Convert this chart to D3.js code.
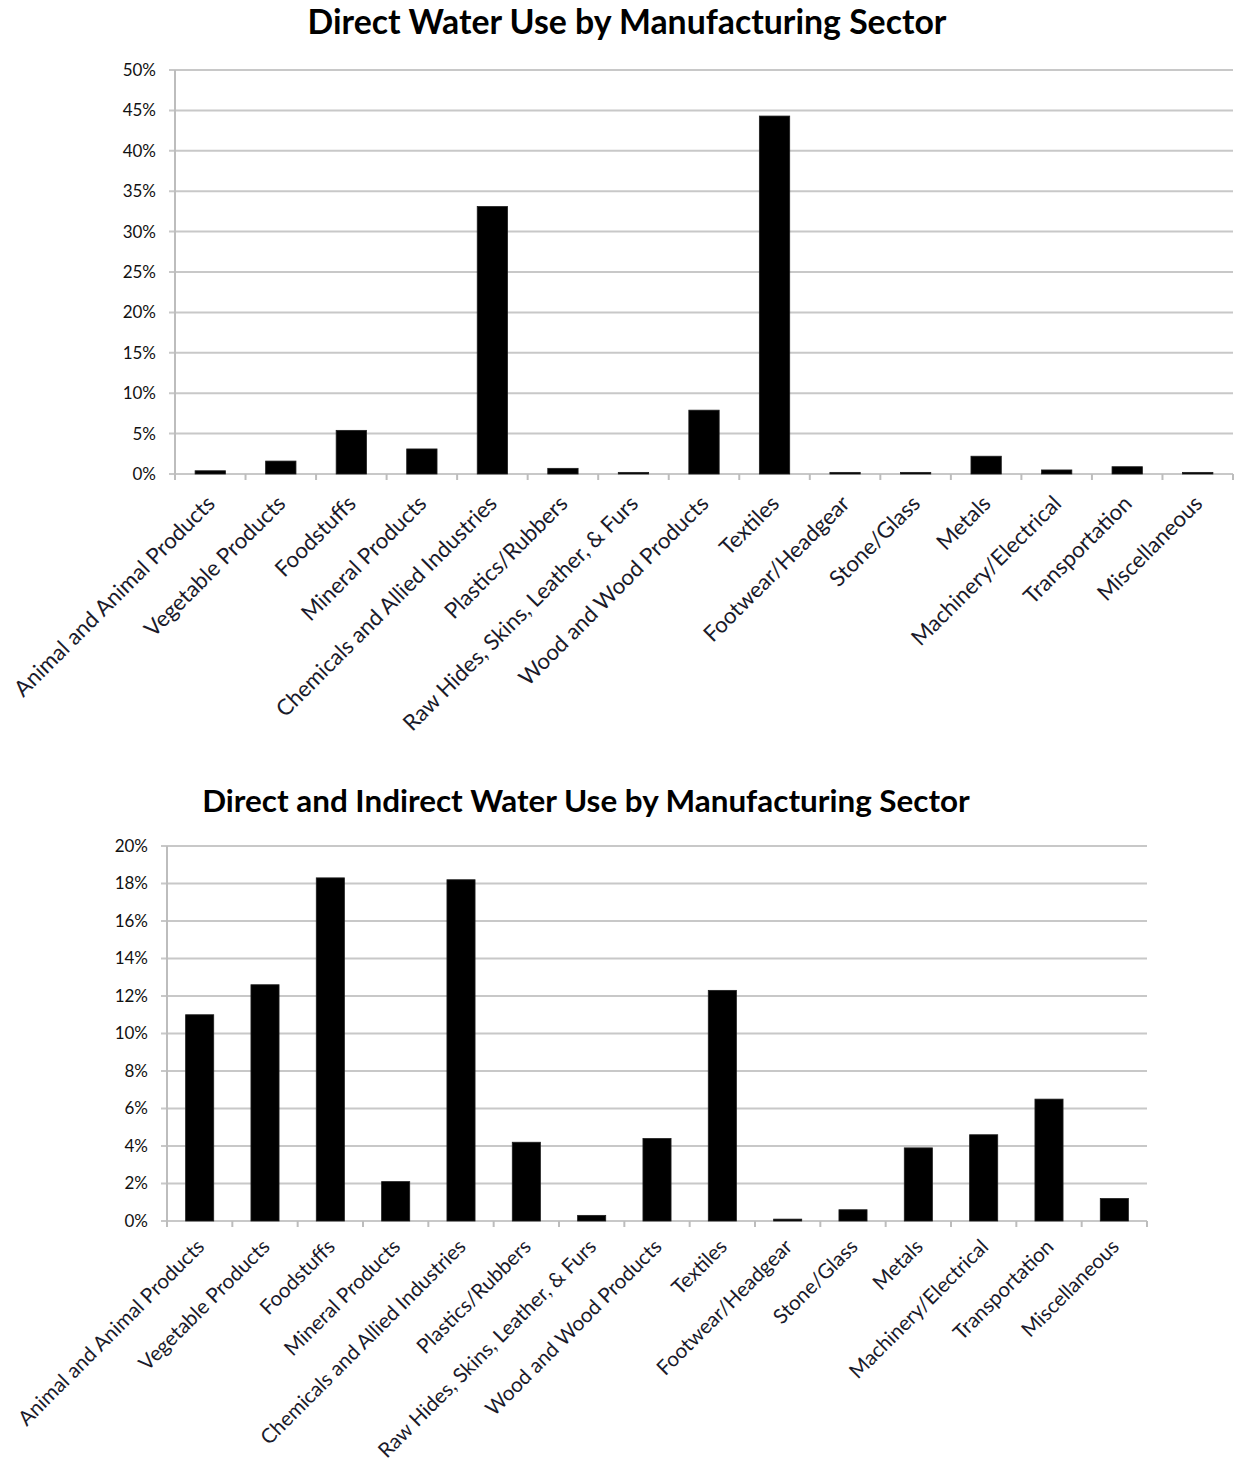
<!DOCTYPE html>
<html>
<head>
<meta charset="utf-8">
<script src="https://cdn.jsdelivr.net/npm/d3@7"></script>
<style>
    body { margin: 0; background: #fff; }
    svg { display: block; }
</style>
</head>
<body>
<svg width="1241" height="1468"></svg>
<script>
// Категории (одинаковые для обоих графиков)
const categories = [
    "Animal and Animal Products", "Vegetable Products", "Foodstuffs", "Mineral Products",
    "Chemicals and Allied Industries", "Plastics/Rubbers", "Raw Hides, Skins, Leather, & Furs",
    "Wood and Wood Products", "Textiles", "Footwear/Headgear", "Stone/Glass", "Metals",
    "Machinery/Electrical", "Transportation", "Miscellaneous"
];

// Доля прямого водопотребления, %
const directUse = [0.4, 1.6, 5.4, 3.1, 33.1, 0.7, 0.2, 7.9, 44.3, 0.2, 0.2, 2.2, 0.5, 0.9, 0.2];

// Доля прямого и косвенного водопотребления, %
const totalUse = [11.0, 12.6, 18.3, 2.1, 18.2, 4.2, 0.3, 4.4, 12.3, 0.1, 0.6, 3.9, 4.6, 6.5, 1.2];

// Подписи оси Y
const directTicks = [0, 5, 10, 15, 20, 25, 30, 35, 40, 45, 50];
const totalTicks = [0, 2, 4, 6, 8, 10, 12, 14, 16, 18, 20];

const titles = [
    "Direct Water Use by Manufacturing Sector",
    "Direct and Indirect Water Use by Manufacturing Sector"
];

let svg = d3.select("svg");

// Функция рисует один график
function drawChart(svg, title, values, ticks, area) {
    let g = svg.append("g");
    let data = categories.map((c, i) => ({label: c, value: values[i]}));

    let scaleX = d3.scaleBand()
        .domain(categories)
        .range([area.left, area.right]);

    let scaleY = d3.scaleLinear()
        .domain([0, d3.max(ticks)])
        .range([area.bottom, area.top]);

    // заголовок
    g.append("text")
        .attr("x", area.titleX)
        .attr("y", area.titleY)
        .attr("text-anchor", "middle")
        .style("font-family", "Lato, sans-serif")
        .style("font-weight", "bold")
        .style("font-size", area.titleSize + "px")
        .style("fill", "#000")
        .text(title);

    // линии сетки
    g.selectAll(".grid")
        .data(ticks)
        .enter()
        .append("line")
        .attr("x1", area.left - 6)
        .attr("x2", area.right)
        .attr("y1", d => scaleY(d))
        .attr("y2", d => scaleY(d))
        .attr("stroke", "#c8c8c8")
        .attr("stroke-width", 2);

    // ось Y
    g.append("line")
        .attr("x1", area.left).attr("x2", area.left)
        .attr("y1", area.top).attr("y2", area.bottom + 6)
        .attr("stroke", "#bdbdbd")
        .attr("stroke-width", 2);

    let axisY = d3.axisLeft(scaleY)
        .tickValues(ticks)
        .tickFormat(d => d + "%")
        .tickSize(0)
        .tickPadding(19);

    let gy = g.append("g")
        .attr("transform", `translate(${area.left}, 0)`)
        .call(axisY);
    gy.select(".domain").remove();
    gy.selectAll("text")
        .style("font-family", "Lato, sans-serif")
        .style("font-size", "17px")
        .style("fill", "#111");

    // засечки оси X на границах категорий
    let bounds = categories.map(c => scaleX(c)).concat([area.right]);
    g.selectAll(".xtick")
        .data(bounds)
        .enter()
        .append("line")
        .attr("x1", d => d).attr("x2", d => d)
        .attr("y1", area.bottom).attr("y2", area.bottom + 6)
        .attr("stroke", "#bdbdbd")
        .attr("stroke-width", 2);

    // подписи оси X
    let axisX = d3.axisBottom(scaleX).tickSize(0);
    let gx = g.append("g")
        .attr("transform", `translate(0, ${area.bottom})`)
        .call(axisX);
    gx.select(".domain").remove();
    gx.selectAll("text")
        .attr("x", 0)
        .attr("y", 0)
        .attr("dy", 0)
        .attr("text-anchor", "end")
        .attr("transform", `translate(6, ${area.labelDy}) rotate(-45)`)
        .style("font-family", "Lato, sans-serif")
        .style("font-size", area.labelSize + "px")
        .style("fill", "#1a1a2a");

    // столбцы
    let barW = scaleX.bandwidth() * 0.43;
    g.selectAll(".bar")
        .data(data)
        .enter()
        .append("rect")
        .attr("x", d => scaleX(d.label) + (scaleX.bandwidth() - barW) / 2)
        .attr("y", d => scaleY(d.value))
        .attr("width", barW)
        .attr("height", d => scaleY(0) - scaleY(d.value))
        .attr("fill", "#000")
        .attr("stroke", "#1e1e1e")
        .attr("stroke-width", 0.8);
}

drawChart(svg, titles[0], directUse, directTicks, {
    left: 175, right: 1233, top: 70, bottom: 474,
    titleX: 627, titleY: 34, titleSize: 33.8, labelSize: 22.2, labelDy: 31
});

drawChart(svg, titles[1], totalUse, totalTicks, {
    left: 167, right: 1147, top: 846, bottom: 1221,
    titleX: 586, titleY: 812, titleSize: 31.4, labelSize: 20.6, labelDy: 27
});
</script>
</body>
</html>
